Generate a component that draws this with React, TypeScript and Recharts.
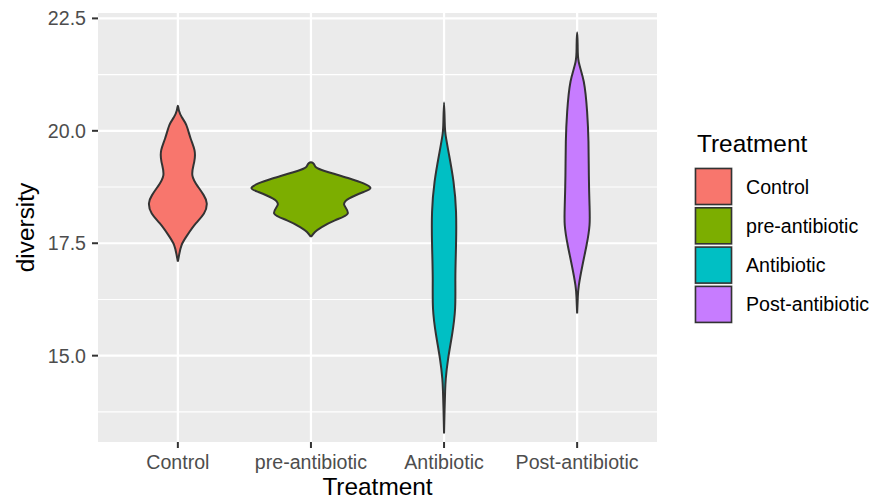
import { ScatterChart, Scatter, XAxis, YAxis, CartesianGrid } from 'recharts';

const treatments = ['Control', 'pre-antibiotic', 'Antibiotic', 'Post-antibiotic'];
const treatmentColors = ['#F8766D', '#7CAE00', '#00BFC4', '#C77CFF'];

// violin outlines: diversity values (bottom to top) and half-widths (in category units)
const controlDiversity = [17.09, 17.25, 17.46, 17.68, 17.94, 18.16, 18.39, 18.57, 18.75, 19.01, 19.31, 19.57, 19.83, 20.13, 20.3, 20.45, 20.56];
const controlWidth = [0, 0.01, 0.028, 0.071, 0.135, 0.196, 0.217, 0.194, 0.153, 0.109, 0.123, 0.125, 0.096, 0.063, 0.03, 0.008, 0];

const preDiversity = [17.64, 17.75, 17.86, 18.01, 18.16, 18.35, 18.5, 18.64, 18.73, 18.83, 18.94, 19.13, 19.22, 19.3];
const preWidth = [0, 0.03, 0.081, 0.18, 0.276, 0.25, 0.288, 0.395, 0.447, 0.395, 0.29, 0.081, 0.03, 0];

const antibioticDiversity = [13.27, 13.8, 14.2, 14.49, 14.94, 15.46, 16.05, 16.72, 17.46, 18.2, 18.87, 19.46, 19.9, 20.2, 20.63];
const antibioticWidth = [0, 0.004, 0.008, 0.013, 0.031, 0.06, 0.083, 0.085, 0.09, 0.09, 0.071, 0.038, 0.012, 0.005, 0];

const postDiversity = [15.94, 16.3, 16.57, 17.01, 17.46, 17.9, 18.35, 19.01, 19.76, 20.42, 21.09, 21.53, 21.9, 22.19];
const postWidth = [0, 0.005, 0.013, 0.04, 0.071, 0.093, 0.093, 0.088, 0.085, 0.075, 0.05, 0.012, 0.004, 0];

const yTicks = [15, 17.5, 20, 22.5];
const yMinorTicks = [13.75, 16.25, 18.75, 21.25];
const xTicks = [1, 2, 3, 4];

const FONT = '"Liberation Sans", Arial, sans-serif';

// closed outline: right side going up, left side coming back down
function outline(center: number, values: number[], widths: number[]) {
  const right = values.map((v, i) => ({ x: center + widths[i], y: v }));
  const left = values.map((v, i) => ({ x: center - widths[i], y: v })).reverse();
  return [...right, ...left.slice(1)];
}

const violins = [
  outline(1, controlDiversity, controlWidth),
  outline(2, preDiversity, preWidth),
  outline(3, antibioticDiversity, antibioticWidth),
  outline(4, postDiversity, postWidth),
];

const noSymbol = () => <g />;

function YTitle() {
  return (
    <text
      transform="translate(33.5,227.5) rotate(-90)"
      textAnchor="middle"
      fontSize={24.4}
      fontFamily={FONT}
      fill="#000"
    >
      diversity
    </text>
  );
}

export default function App() {
  return (
    <div style={{ position: 'absolute', left: 0, top: 0, width: 874, height: 501, background: '#fff' }}>
      <ScatterChart width={874} height={501} margin={{ top: 13, right: 217, bottom: 0, left: 0 }}>
        <CartesianGrid
          fill="#EBEBEB"
          stroke="#FFFFFF"
          strokeWidth={1.1}
          vertical={false}
          horizontalValues={yMinorTicks}
        />
        <CartesianGrid
          stroke="#FFFFFF"
          strokeWidth={2.2}
          horizontalValues={yTicks}
          verticalValues={xTicks}
        />
        <XAxis
          type="number"
          dataKey="x"
          domain={[0.4, 4.6]}
          allowDataOverflow
          ticks={xTicks}
          tickFormatter={(v: number) => treatments[v - 1]}
          axisLine={false}
          tickSize={6}
          tickMargin={7}
          tickLine={{ stroke: '#333333', strokeWidth: 2 }}
          tick={{ fill: '#4D4D4D', fontSize: 19.6, fontFamily: FONT }}
          height={59}
          label={{ value: 'Treatment', position: 'insideBottom', offset: 6, fill: '#000', fontSize: 24.4, fontFamily: FONT }}
        />
        <YAxis
          type="number"
          dataKey="y"
          domain={[13.08, 22.62]}
          allowDataOverflow
          ticks={yTicks}
          tickFormatter={(v: number) => v.toFixed(1)}
          axisLine={false}
          tickSize={6}
          tickMargin={6}
          tickLine={{ stroke: '#333333', strokeWidth: 2 }}
          tick={{ fill: '#4D4D4D', fontSize: 19.6, fontFamily: FONT }}
          width={98}
          label={{ content: <YTitle /> }}
        />
        {violins.map((pts, i) => (
          <Scatter
            key={treatments[i]}
            name={treatments[i]}
            data={pts}
            fill={treatmentColors[i]}
            shape={noSymbol}
            line={{ fill: treatmentColors[i], stroke: '#333333', strokeWidth: 2 }}
            lineType="joint"
            lineJointType="natural"
            isAnimationActive={false}
          />
        ))}
      </ScatterChart>
      <svg width={874} height={501} style={{ position: 'absolute', left: 0, top: 0, pointerEvents: 'none' }}>
        <text x={697} y={152} fontSize={24.4} fontFamily={FONT} fill="#000">
          Treatment
        </text>
        {treatments.map((t, i) => (
          <g key={t}>
            <rect x={694} y={167 + i * 39.3} width={39} height={39} fill="#F2F2F2" />
            <rect
              x={695.5}
              y={168.5 + i * 39.3}
              width={36}
              height={36}
              fill={treatmentColors[i]}
              stroke="#333333"
              strokeWidth={1.6}
            />
            <text x={746} y={186.5 + i * 39.3} dy="0.36em" fontSize={19.6} fontFamily={FONT} fill="#000">
              {t}
            </text>
          </g>
        ))}
      </svg>
    </div>
  );
}
